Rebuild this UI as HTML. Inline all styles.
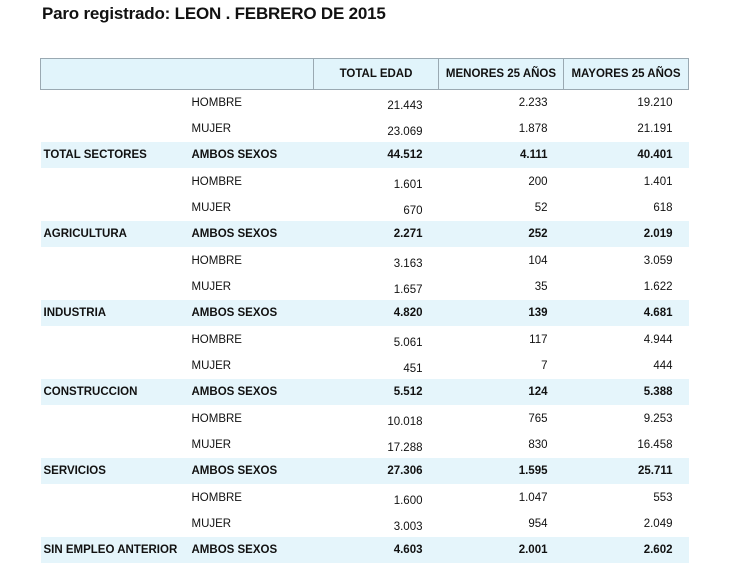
<!DOCTYPE html>
<html><head><meta charset="utf-8"><style>
body{margin:0;width:729px;height:579px;background:#fff;font-family:"Liberation Sans",Arial,sans-serif;color:#111;position:relative;overflow:hidden}
h1{position:absolute;left:42px;top:4px;margin:0;font-size:17px;font-weight:bold;letter-spacing:-0.2px}
table{position:absolute;left:40px;top:58px;border-collapse:collapse;table-layout:fixed;width:648px;font-size:11.5px}
th{height:30px;background:#e1f4fb;border:1px solid #9aa9b2;font-weight:bold;font-size:11.5px;padding:0 4px;text-align:center}
th.e{border-right:none}th.e2{border-left:none}
td{height:26.33px;padding:0 4px;white-space:nowrap;box-sizing:border-box}
td:nth-child(2){padding-left:1px}
td.n{text-align:right;padding-right:16px}
td.lo{padding-top:6px}
tr.t td{background:#e5f5fb;font-weight:bold}
tr.t td:first-child{padding-left:3px}
</style></head><body>
<h1>Paro registrado: LEON . FEBRERO DE 2015</h1>
<table>
<colgroup><col style="width:150px"><col style="width:123px"><col style="width:125px"><col style="width:125px"><col style="width:125px"></colgroup>
<tr><th class="e"></th><th class="e2"></th><th>TOTAL EDAD</th><th>MENORES 25 AÑOS</th><th>MAYORES 25 AÑOS</th></tr>
<tr><td></td><td>HOMBRE</td><td class="n lo">21.443</td><td class="n">2.233</td><td class="n">19.210</td></tr>
<tr><td></td><td>MUJER</td><td class="n lo">23.069</td><td class="n">1.878</td><td class="n">21.191</td></tr>
<tr class="t"><td>TOTAL SECTORES</td><td>AMBOS SEXOS</td><td class="n">44.512</td><td class="n">4.111</td><td class="n">40.401</td></tr>
<tr><td></td><td>HOMBRE</td><td class="n lo">1.601</td><td class="n">200</td><td class="n">1.401</td></tr>
<tr><td></td><td>MUJER</td><td class="n lo">670</td><td class="n">52</td><td class="n">618</td></tr>
<tr class="t"><td>AGRICULTURA</td><td>AMBOS SEXOS</td><td class="n">2.271</td><td class="n">252</td><td class="n">2.019</td></tr>
<tr><td></td><td>HOMBRE</td><td class="n lo">3.163</td><td class="n">104</td><td class="n">3.059</td></tr>
<tr><td></td><td>MUJER</td><td class="n lo">1.657</td><td class="n">35</td><td class="n">1.622</td></tr>
<tr class="t"><td>INDUSTRIA</td><td>AMBOS SEXOS</td><td class="n">4.820</td><td class="n">139</td><td class="n">4.681</td></tr>
<tr><td></td><td>HOMBRE</td><td class="n lo">5.061</td><td class="n">117</td><td class="n">4.944</td></tr>
<tr><td></td><td>MUJER</td><td class="n lo">451</td><td class="n">7</td><td class="n">444</td></tr>
<tr class="t"><td>CONSTRUCCION</td><td>AMBOS SEXOS</td><td class="n">5.512</td><td class="n">124</td><td class="n">5.388</td></tr>
<tr><td></td><td>HOMBRE</td><td class="n lo">10.018</td><td class="n">765</td><td class="n">9.253</td></tr>
<tr><td></td><td>MUJER</td><td class="n lo">17.288</td><td class="n">830</td><td class="n">16.458</td></tr>
<tr class="t"><td>SERVICIOS</td><td>AMBOS SEXOS</td><td class="n">27.306</td><td class="n">1.595</td><td class="n">25.711</td></tr>
<tr><td></td><td>HOMBRE</td><td class="n lo">1.600</td><td class="n">1.047</td><td class="n">553</td></tr>
<tr><td></td><td>MUJER</td><td class="n lo">3.003</td><td class="n">954</td><td class="n">2.049</td></tr>
<tr class="t"><td>SIN EMPLEO ANTERIOR</td><td>AMBOS SEXOS</td><td class="n">4.603</td><td class="n">2.001</td><td class="n">2.602</td></tr>
</table>
</body></html>
